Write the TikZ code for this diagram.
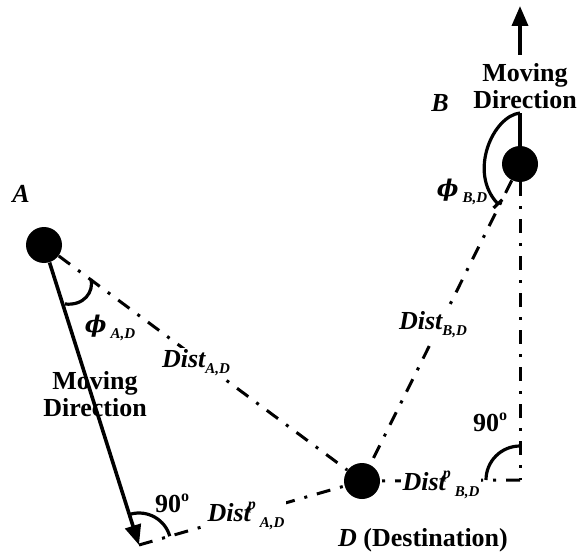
\documentclass[tikz,border=0pt]{standalone}
\usepackage{amsmath, amssymb}
\usepackage{fontspec}
\setmainfont{Liberation Serif}
\newfontfamily\grkfont{DejaVu Serif}
\usetikzlibrary{arrows.meta, positioning, calc}
\newcommand{\lowix}[1]{\raisebox{-0.5ex}{\fontsize{7.5}{8}\selectfont\bfseries\itshape #1}}
\newcommand{\highix}[1]{\raisebox{1.0ex}{\fontsize{8}{9}\selectfont\bfseries\itshape #1}}
\newcommand{\dego}{\raisebox{0.9ex}{\fontsize{8}{9}\selectfont\bfseries o}}
\newcommand{\phisym}{{\grkfont\fontsize{11.5}{12}\selectfont\bfseries\itshape ϕ}}
\tikzset{
    dot/.style={circle, fill=black, inner sep=0pt, minimum size=18pt},
    lbl/.style={inner sep=1pt, align=center, font=\fontsize{13}{13.5}\selectfont\bfseries},
    ilbl/.style={lbl, font=\fontsize{13}{13.5}\selectfont\bfseries\itshape},
    onlbl/.style={ilbl, fill=white},
    dashdot/.style={line width=1.5pt, dash pattern=on 7pt off 5pt on 1.5pt off 5pt},
    move/.style={line width=1.8pt, -{Triangle[length=10pt, width=8pt]}},
    ang/.style={line width=1.6pt}
}

\begin{document}
\begin{tikzpicture}[x=0.5pt, y=-0.5pt]
  \useasboundingbox (0,0) rectangle (578,556);

  % nodes
  \node (A) [dot] at (44,245) {};
  \node (B) [dot] at (520,164) {};
  \node (D) [dot] at (362,481) {};
  \coordinate (PA) at (139,545);
  \coordinate (PB) at (520,480);
  \coordinate (Btop) at (520,113);
  \coordinate (mvBs) at (520,55);
  \coordinate (mvBe) at (520,6);

  % connectors
  \draw [dashdot] (A) -- (D);
  \draw [dashdot] (B) -- (D);
  \draw [dashdot] (B) -- (PB);
  \draw [dashdot] (PB) -- (D);
  \draw [dashdot] (PA) -- (D);
  \draw [move] (A) -- (PA);
  \draw [move] (mvBs) -- (mvBe);
  \draw [ang] (B) -- (Btop);

  % angles
  \draw [ang] (65,304) .. controls (84,306) and (94,292) .. (91,279);
  \draw [ang, -{Bar[width=6pt]}] (Btop) .. controls (493,116) and (468,172) .. (499,205);
  \draw [ang] ([shift={(105:16pt)}]PA) arc [start angle=105, end angle=16, radius=16pt];
  \draw [ang] ([shift={(180:17pt)}]PB) arc [start angle=180, end angle=90, radius=17pt];

  % labels
  \node (lA) [ilbl] at (21,194) {A};
  \node (lB) [ilbl] at (440,103) {B};
  \node (lD) [lbl] at (423,540) {\textit{D} (Destination)};
  \node (mvA) [lbl] at (95,394) {Moving\\Direction};
  \node (mvB) [lbl] at (525,86) {Moving\\Direction};
  \node (phiA) [ilbl] at (110,328) {\phisym\kern2pt\lowix{A,D}};
  \node (phiB) [ilbl] at (462,192) {\phisym\kern2pt\lowix{B,D}};
  \node (dAD) [onlbl] at (196,363) {Dist\lowix{A,D}};
  \node (dBD) [onlbl] at (433,325) {Dist\lowix{B,D}};
  \node (pAD) [onlbl] at (246,516) {Dist\kern-1.5pt\highix{p}\kern2pt\lowix{A,D}};
  \node (pBD) [onlbl] at (441,485) {Dist\kern-1.5pt\highix{p}\kern2pt\lowix{B,D}};
  \node (rA) [lbl] at (172,503) {90\dego};
  \node (rB) [lbl] at (490,422) {90\dego};
\end{tikzpicture}
\end{document}
